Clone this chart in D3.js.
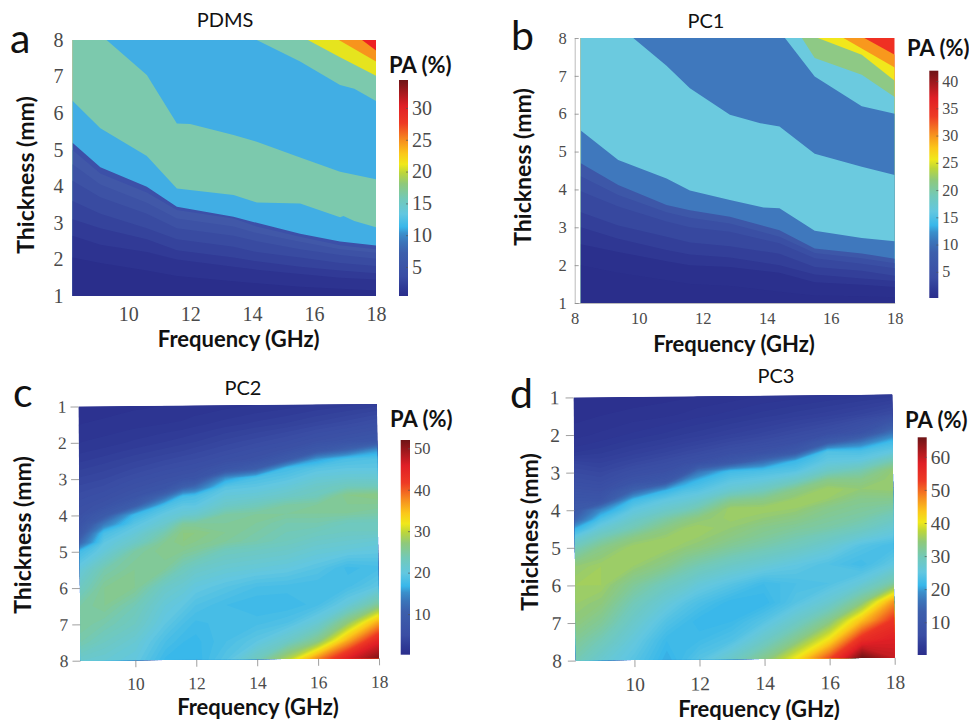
<!DOCTYPE html>
<html><head><meta charset="utf-8">
<script src="https://cdn.jsdelivr.net/npm/d3@7"></script>
<style>
html,body{margin:0;padding:0;background:#fff}
svg{display:block}
.sans{font-family:Lato,"Open Sans",sans-serif;fill:#111}
.tick text{font-family:"Liberation Serif",serif;fill:#4a4a4a}
</style></head><body>
<svg id="c" width="969" height="720"></svg>
<script>
// ---------- colour scale ----------
const cmapStops  = [0, .04, .09, .20, .25, .29, .32, .38, .45, .52, .57, .61, .66, .72, .80, .88, 1];
const cmapColors = ["#2b2e8c","#2f3a96","#3a4da4","#3d5fac","#3b75ba","#3a90cc","#38b7ea","#62c7e0","#72c9b8","#8fc97a","#bcd63a","#f0e81a","#fbc71a","#f68f1f","#ee3a24","#e01f26","#6e1416"];
const cmap = d3.scaleLinear().domain(cmapStops).range(cmapColors).clamp(true);

// ---------- shared ticks ----------
const thicknessTicks = [1,2,3,4,5,6,7,8];
const freqTicksA = [10,12,14,16,18];
const freqTicksB = [8,10,12,14,16,18];
const barTicksA = [5,10,15,20,25,30];
const barTicksB = [5,10,15,20,25,30,35,40];
const barTicksC = [10,20,30,40,50];
const barTicksD = [10,20,30,40,50,60];

// ---------- panel a: PDMS, contour edges as [frequency, thickness] ----------
const aRedEdge      = [[8.2,8],[17.55,8],[18,7.71]];
const aOrangeEdge   = [[8.2,8],[16.8,8],[18,7.41]];
const aYellowEdge   = [[8.2,8],[15.8,8],[16.84,7.53],[18,7.02]];
const aGreenTopEdge = [[8.2,8],[14.15,8],[15.55,7.41],[16.84,6.77],[17.3,6.67],[18,6.33]];
const aBlueTopEdge  = [[8.2,8],[9.3,8],[10.6,7.04],[11.57,5.72],[12,5.7],[13.4,5.40],[14.15,5.22],[15.55,4.79],[16.84,4.4],[18,4.19]];
const aGreenLowEdge = [[8.2,6.34],[9.1,5.59],[10.6,4.83],[11.57,3.94],[13.4,3.76],[14.15,3.56],[15.55,3.53],[16.84,3.15],[16.95,3.19],[17.3,3.05],[18,2.88]];
const aFreq  = [8.2,9.1,10.6,11.57,13.4,14.15,15.55,16.84,18];
const aBlueLow = [5.19,4.52,3.99,3.44,3.17,3.0,2.7,2.49,2.38];
const aLow7 = [4.99,4.35,3.83,3.35,3.12,2.9,2.62,2.39,2.28];
const aLow6 = [4.6,4.05,3.55,3.12,2.9,2.72,2.48,2.28,2.18];
const aLow5 = [4.15,3.7,3.25,2.85,2.65,2.5,2.28,2.12,2.02];
const aLow4 = [3.6,3.25,2.85,2.55,2.35,2.2,2.05,1.9,1.82];
const aLow3 = [3.1,2.85,2.55,2.25,2.05,1.95,1.8,1.7,1.62];
const aLow2 = [2.65,2.4,2.2,2.0,1.8,1.72,1.6,1.5,1.45];
const aLow1 = [2.05,1.9,1.7,1.55,1.4,1.35,1.25,1.2,1.15];
const aBandColors = ["#ee2024","#f7941d","#e6e41e","#7cc9ad","#41aee4","#7cc9ad","#41aee4","#3c50a8","#4158a8","#3d52a5","#394ba1","#35439c","#313a96","#2d3390","#2a2e8b"];

// ---------- panel b: PC1 ----------
const bRedEdge      = [[8,8],[17.05,8],[18,7.56]];
const bOrangeEdge   = [[8,8],[16.4,8],[18,7.22]];
const bYellowEdge   = [[8,8],[15.6,8],[16.97,7.56],[18,6.87]];
const bGreenEdge    = [[8,8],[15.1,8],[15.5,7.47],[16.97,7.03],[18,6.44]];
const bLightTopEdge = [[8,8],[14.57,8],[15.5,6.98],[16.97,6.2],[18,6.0]];
const bMidTopEdge   = [[8,8],[9.83,8],[10.87,7.27],[11.6,6.67],[12.85,5.97],[13.8,5.75],[14.4,5.66],[15.5,4.94],[16.97,4.6],[18,4.38]];
const bLightLowEdge = [[8.2,5.55],[9.36,4.78],[10.87,4.29],[11.6,3.97],[12.85,3.72],[13.9,3.52],[14.4,3.50],[15.5,2.91],[16.97,2.72],[18,2.63]];
const bFreq = [8.19,9.36,10.87,11.6,12.85,14.4,15.5,16.97,18];
const bLow7 = [4.69,4.12,3.59,3.45,3.28,2.92,2.44,2.31,2.17];
const bLow6 = [4.35,3.85,3.4,3.25,3.1,2.75,2.32,2.18,2.05];
const bLow5 = [3.95,3.55,3.15,3.0,2.88,2.58,2.18,2.04,1.92];
const bLow4 = [3.4,3.05,2.75,2.6,2.5,2.3,1.95,1.85,1.72];
const bLow3 = [3.0,2.7,2.4,2.28,2.2,2.0,1.75,1.65,1.58];
const bLow2 = [2.55,2.35,2.1,2.0,1.95,1.8,1.55,1.48,1.42];
const bLow1 = [2.0,1.8,1.6,1.5,1.45,1.3,1.2,1.18,1.15];
const bBandColors = ["#ef3023","#f8981d","#f1e71c","#8ec985","#6bcadf","#3f78bd","#6bcadf","#3f78bd","#3d57a8","#3a4fa4","#37489f","#333f99","#2f3793","#2b308d","#2a2e8b"];

// ---------- panels c and d: PA (%) for each frequency (one array per column) down the thickness rows ----------
const gridFreq  = [8.2,9,10,11,11.6,12,13,14,15,16,17,18];
const gridThick = [1,1.5,2,2.25,2.5,2.75,3,3.25,3.5,3.75,4,4.25,4.5,4.75,5,5.5,6,6.5,7,7.5,8];
const cColumns = [
 [.8,1,1.5,1.9,2.4,3,3.6,4.2,4.8,5.4,6,6.8,8.6,11.5,17.5,20.5,22.5,24.5,25,24,21.5],
 [.8,1.1,1.7,2.2,2.8,3.4,4,4.7,5.5,6.5,9,13.5,18,19.5,20.5,24,25.5,25.5,24,22.5,21],
 [.9,1.3,2.1,2.7,3.4,4.1,5,5.9,7,10,17,19,20.5,22,24.5,25.5,25.5,23.5,22.5,21,20],
 [1,1.5,2.5,3.2,4,4.9,5.9,7,12,18,20,21.5,24,25.5,26,25,22,20.5,19.5,18,16.8],
 [1,1.6,2.8,3.5,4.4,5.3,6.5,10.5,17.5,19.5,21,25,26.5,26.5,25.5,23,21,19.5,18,17,16.5],
 [1.1,1.8,3,3.8,4.6,5.6,6.8,12,18,19.5,21.5,25,26.5,26,25,22,20,18.5,17.3,16.8,16.5],
 [1.3,2.2,3.7,4.5,5.5,7.5,15,19,20.5,22,24.5,25,25.5,25,23,21,19,17.5,17.8,18,19],
 [1.5,2.6,4.3,5.3,6.3,10,18,19.5,21,23,25,25,24.5,24,22.5,20.5,18,17,17.8,19.5,23],
 [1.7,3,5,6.2,9,17.5,19,20.5,22,24.5,25,24,23.5,23,22,20,17.8,17,18.5,22,29],
 [2,3.6,6,8.3,15.5,19,20.5,22,23,25,25,24,23,22,21,19,17.5,17.8,21,26,38],
 [2.3,4.2,6.8,11,18,19.5,21,23,26,25.5,25,23,22.5,21.5,20.5,17.3,17.8,20.5,27,36,46],
 [2.7,5,7.5,15,18.5,19.5,21,23,26.5,25.5,24.5,23,22.5,21,20,17.8,19.5,25,36,45,51]];
const dColumns = [
 [.5,.8,1.3,1.8,2.6,4.5,5.5,6.5,8,9.5,11,14,21,26,29.5,34.5,35.5,35,34,32,30],
 [.6,1,1.6,2.2,3,4,5,6,7.5,9.5,18.5,23,26.5,30,33,35.5,35.5,34,32,29.5,27],
 [.7,1.2,2.1,2.9,3.8,5,6.5,8.5,14,22,25,27.5,30,33.5,35.5,35,32,29.5,27.5,25.5,24],
 [.8,1.4,2.6,3.5,4.6,6,7.5,10.5,21,25,27.5,31,33.5,35,35.5,33,29,26,23.5,21.5,20.5],
 [.9,1.6,3,4,5.2,6.8,10,19,23.5,26,29,33,35,35.5,34.5,31,27.5,24,22,21.5,22.5],
 [1,1.8,3.2,4.3,5.6,7.4,16,21.5,24,27,30.5,34,35.5,35,34,30,26,23,21,22,24],
 [1.2,2.2,3.9,5.2,6.8,10.5,22,24.5,27,32,35.5,35.3,34.5,33.5,32,28,24,21,21.5,23.5,28],
 [1.5,2.7,4.6,6,8,15.5,23,25.5,29,33,35.5,34.5,33,32,30.5,26.5,22,21,24,28,33],
 [1.7,3.2,5.5,7,11,21.5,24,28,33,35,35,33.5,32,30.5,29,25,23,24,28,33,41],
 [2,3.7,6.5,12,23.5,25,28,33,35.5,35,33,32,31,29,27,23.5,23.5,27,33,41,52],
 [2.3,4.4,8.5,16.5,23,25.5,30,33,34.5,33,32,31,29.5,27,24,22,26,33,44,55,66],
 [2.7,5.5,16,22,25,30,34.5,35,35,33,31,29,27,25,22.5,25,31,47,54,58,60]];
const cLevels = d3.range(0.5,52,0.5);
const dLevels = d3.range(0.5,66,0.5);

// ---------- layout of the four panels ----------
const panels = [
 {kind:"bands", letter:"a", title:"PDMS", titleX:225, titleY:27, letterX:10, letterY:53,
  xDomain:[8.2,18], xRange:[72.5,376], yRange:[296,40], plotX:8.2, rot:0, xTicks:freqTicksA, tickFont:20, xPad:10.5, yPad:9,
  edges:[aRedEdge,aOrangeEdge,aYellowEdge,aGreenTopEdge,aBlueTopEdge,aGreenLowEdge,d3.zip(aFreq,aBlueLow),d3.zip(aFreq,aLow7),d3.zip(aFreq,aLow6),d3.zip(aFreq,aLow5),d3.zip(aFreq,aLow4),d3.zip(aFreq,aLow3),d3.zip(aFreq,aLow2),d3.zip(aFreq,aLow1)],
  colors:aBandColors, marks:"none",
  bar:{x:399,w:9,y0:296,y1:80,min:.44,max:34.4,ticks:barTicksA,font:20},
  paX:389,paY:73, fX:238.7,fY:347, tX:34,tY:175},
 {kind:"bands", letter:"b", title:"PC1", titleX:706, titleY:28, letterX:511, letterY:50,
  xDomain:[8,18], xRange:[574.7,894.7], yRange:[303,38], plotX:8.19, rot:0, xTicks:freqTicksB, tickFont:16.5, xPad:9, yPad:7,
  edges:[bRedEdge,bOrangeEdge,bYellowEdge,bGreenEdge,bLightTopEdge,bMidTopEdge,bLightLowEdge,d3.zip(bFreq,bLow7),d3.zip(bFreq,bLow6),d3.zip(bFreq,bLow5),d3.zip(bFreq,bLow4),d3.zip(bFreq,bLow3),d3.zip(bFreq,bLow2),d3.zip(bFreq,bLow1)],
  colors:bBandColors, marks:"frame",
  bar:{x:929.3,w:9,y0:298,y1:70.7,min:.2,max:41.9,ticks:barTicksB,font:16},
  paX:907,paY:56, fX:734,fY:352, tX:531,tY:167},
 {kind:"grid", letter:"c", title:"PC2", titleX:243, titleY:395, letterX:13, letterY:407,
  xDomain:[8.2,18], xRange:[79.5,378], yRange:[405.3,659.5], plotX:8.2, rot:-0.45, xTicks:freqTicksA, tickFont:17.5, xPad:10, yPad:10,
  values:cColumns, levels:cLevels, vMax:52, marks:"ticks",
  bar:{x:400.7,w:9.3,y0:654.7,y1:440,min:.2,max:52,ticks:barTicksC,font:16.5},
  paX:390,paY:427, fX:258,fY:715, tX:31,tY:535},
 {kind:"grid", letter:"d", title:"PC3", titleX:776, titleY:383, letterX:510, letterY:408,
  xDomain:[8.2,18], xRange:[574.7,893.5], yRange:[396,659.2], plotX:8.2, rot:-0.5, xTicks:freqTicksA, tickFont:19.5, xPad:10, yPad:12,
  values:dColumns, levels:dLevels, vMax:65.9, marks:"ticks",
  bar:{x:917.7,w:9,y0:655,y1:437.3,min:.1,max:65.9,ticks:barTicksD,font:19.5},
  paX:905,paY:428, fX:759,fY:716.5, tX:538,tY:532}
];

const svg = d3.select("#c");
const defs = svg.append("defs");

panels.forEach((p,i)=>{
  const x = d3.scaleLinear().domain(p.xDomain).range(p.xRange);
  const y = d3.scaleLinear().domain([1,8]).range(p.yRange);
  const cx=(p.xRange[0]+p.xRange[1])/2, cy=(p.yRange[0]+p.yRange[1])/2;
  const g = svg.append("g").attr("transform",`rotate(${p.rot},${cx},${cy})`);
  const left=x(p.plotX), right=x(18), top=Math.min(...p.yRange), bottom=Math.max(...p.yRange);
  defs.append("clipPath").attr("id","clip"+i).append("rect")
    .attr("x",left).attr("y",top).attr("width",right-left).attr("height",bottom-top);
  const plot = g.append("g").attr("clip-path",`url(#clip${i})`);

  if(p.kind==="bands"){
    plot.append("rect").attr("x",left).attr("y",top).attr("width",right-left).attr("height",bottom-top).attr("fill",p.colors[0]);
    const area = d3.area().x(d=>x(d[0])).y0(y(1)).y1(d=>y(d[1]));
    p.edges.forEach((edge,k)=>{
      plot.append("path").datum(edge).attr("d",area).attr("fill",p.colors[k+1]);
    });
  } else {
    const nx=gridFreq.length, ny=gridThick.length;
    const fIdx=d3.scaleLinear().domain(d3.range(nx)).range(gridFreq).clamp(true);
    const tIdx=d3.scaleLinear().domain(d3.range(ny)).range(gridThick).clamp(true);
    const proj=d3.geoTransform({point(a,b){this.stream.point(x(fIdx(a-.5)),y(tIdx(b-.5)));}});
    const path=d3.geoPath(proj);
    const contours=d3.contours().size([nx,ny]).smooth(true).thresholds(p.levels)(d3.transpose(p.values).flat());
    const col=v=>cmap(v/p.vMax);
    plot.append("rect").attr("x",left).attr("y",top).attr("width",right-left).attr("height",bottom-top).attr("fill",col(0));
    plot.selectAll("path.lv").data(contours).enter().append("path").attr("class","lv")
      .attr("d",path).attr("fill",d=>col(d.value+.25));
  }

  // axes
  const axX=d3.axisBottom(x).tickValues(p.xTicks).tickFormat(d3.format("d")).tickSizeOuter(0).tickPadding(p.xPad);
  const axY=d3.axisLeft(y).tickValues(thicknessTicks).tickFormat(d3.format("d")).tickSizeOuter(0).tickPadding(p.yPad);
  if(p.marks==="none"){axX.tickSizeInner(0);axY.tickSizeInner(0);}
  if(p.marks==="frame"){axX.tickSizeInner(0).tickPadding(9);axY.tickSizeInner(-4).tickPadding(8);}
  if(p.marks==="ticks"){axX.tickSizeInner(7).tickPadding(p.xPad);axY.tickSizeInner(8).tickPadding(p.yPad-6);}
  const gx=g.append("g").attr("transform",`translate(0,${bottom})`).call(axX);
  const gy=g.append("g").attr("transform",`translate(${p.marks==="frame"?x(8):left},0)`).call(axY);
  [gx,gy].forEach(a=>{
    a.attr("font-family",null).attr("font-size",null);
    a.selectAll("text").style("font-size",p.tickFont+"px");
    a.selectAll("line").attr("stroke","#888").attr("stroke-width",.8);
    a.select(".domain").attr("stroke",p.marks==="frame"?"#bbb":"none").attr("stroke-width",1);
  });

  // colour bar
  const b=p.bar, gid="grad"+i;
  const grad=defs.append("linearGradient").attr("id",gid).attr("x1",0).attr("x2",0).attr("y1",1).attr("y2",0);
  grad.selectAll("stop").data(cmapStops).enter().append("stop")
    .attr("offset",d=>d).attr("stop-color",(d,k)=>cmapColors[k]);
  svg.append("rect").attr("x",b.x).attr("y",b.y1).attr("width",b.w).attr("height",b.y0-b.y1).attr("fill",`url(#${gid})`);
  const by=d3.scaleLinear().domain([b.min,b.max]).range([b.y0,b.y1]);
  const ba=svg.append("g").attr("transform",`translate(${b.x+b.w},0)`)
    .call(d3.axisRight(by).tickValues(b.ticks).tickSize(-2).tickSizeOuter(0).tickPadding(4));
  ba.attr("font-family",null).attr("font-size",null);
  ba.select(".domain").attr("stroke","none");
  ba.selectAll("line").attr("stroke","#555").attr("stroke-width",.7);
  ba.selectAll("text").style("font-size",b.font+"px");

  // text
  const t=(s,xx,yy,size,weight,anchor)=>svg.append("text").attr("class","sans").attr("x",xx).attr("y",yy)
    .attr("font-size",size).attr("font-weight",weight).attr("text-anchor",anchor).text(s);
  t(p.title,p.titleX,p.titleY,20,400,"middle");
  t(p.letter,p.letterX,p.letterY,41,400,"start");
  t("PA (%)",p.paX,p.paY,22,700,"start");
  t("Frequency (GHz)",p.fX,p.fY,22,700,"middle");
  svg.append("text").attr("class","sans").attr("transform",`translate(${p.tX},${p.tY}) rotate(-90)`)
    .attr("font-size",23).attr("font-weight",700).attr("text-anchor","middle").text("Thickness (mm)");
});
</script>
</body></html>
